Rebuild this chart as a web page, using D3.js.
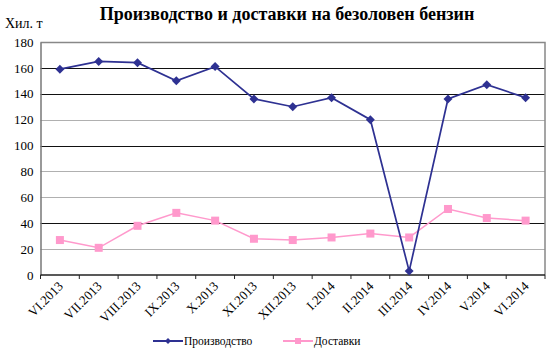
<!DOCTYPE html>
<html>
<head>
<meta charset="utf-8">
<script src="https://cdn.jsdelivr.net/npm/d3@7"></script>
<style>
  body { margin: 0; background: #fff; }
</style>
</head>
<body>
<div id="chart"></div>
<script>
'use strict';

const CATEGORIES = ['VI.2013', 'VII.2013', 'VIII.2013', 'IX.2013', 'X.2013', 'XI.2013', 'XII.2013',
  'I.2014', 'II.2014', 'III.2014', 'IV.2014', 'V.2014', 'VI.2014'];
const PRODUCTION = [159, 165, 164, 150, 161, 136, 130, 137, 120, 3, 136, 147, 137];
const DELIVERIES = [27, 21, 38, 48, 42, 28, 27, 29, 32, 29, 51, 44, 42];
const Y_TICKS = [0, 20, 40, 60, 80, 100, 120, 140, 160, 180];
const DARK_GRID = [40, 100, 140, 160];

const FONT = 'Liberation Serif';
const MARGIN = { top: 42, right: 10, bottom: 78, left: 40.5 };
const W = 555, H = 353;
const w = W - MARGIN.left - MARGIN.right;
const h = H - MARGIN.top - MARGIN.bottom;

const svg = d3.select('#chart').append('svg')
  .attr('width', W).attr('height', H)
  .attr('font-family', FONT);

svg.append('text')
  .attr('x', 287).attr('y', 20)
  .attr('text-anchor', 'middle')
  .attr('font-family', FONT)
  .attr('font-size', 18).attr('font-weight', 'bold')
  .text('Производство и доставки на безоловен бензин');

svg.append('text')
  .attr('x', 5).attr('y', 28)
  .attr('font-family', FONT)
  .attr('font-size', 14)
  .text('Хил. т');

const g = svg.append('g').attr('transform', `translate(${MARGIN.left},${MARGIN.top})`);

const x = d3.scaleBand().domain(CATEGORIES).range([0, w]);
const y = d3.scaleLinear().domain([0, 180]).range([h, 0]);
const cx = i => x(CATEGORIES[i]) + x.bandwidth() / 2;

// grid
g.append('g')
  .selectAll('line')
  .data(Y_TICKS.filter(t => t > 0 && t < 180))
  .join('line')
  .attr('x1', 0).attr('x2', w)
  .attr('y1', d => Math.round(y(d)) + 0.5).attr('y2', d => Math.round(y(d)) + 0.5)
  .attr('stroke', d => DARK_GRID.includes(d) ? '#111' : '#b0b0b0')
  .attr('stroke-width', 1.2);

// frame top / right
g.append('path')
  .attr('d', `M0,${Math.round(y(180)) + 0.5}H${w}V${h}`)
  .attr('fill', 'none').attr('stroke', '#888').attr('stroke-width', 1.5);

// y axis
g.append('g')
  .call(d3.axisLeft(y).tickValues(Y_TICKS).tickSize(0).tickPadding(7))
  .attr('font-family', FONT).attr('font-size', 13)
  .call(a => a.select('.domain').attr('stroke', '#777').attr('stroke-width', 1.5))
  .call(a => a.selectAll('text').attr('fill', '#000'));

// x axis, ticks at category boundaries
const xAxis = g.append('g').attr('transform', `translate(0,${h})`);
xAxis.append('line')
  .attr('x1', 0).attr('x2', w).attr('y1', 0).attr('y2', 0)
  .attr('stroke', '#222').attr('stroke-width', 1.3);
xAxis.selectAll('line.tick')
  .data(d3.range(CATEGORIES.length + 1))
  .join('line')
  .attr('class', 'tick')
  .attr('x1', i => i * x.bandwidth()).attr('x2', i => i * x.bandwidth())
  .attr('y1', 0).attr('y2', 4)
  .attr('stroke', '#222');
xAxis.selectAll('text.lbl')
  .data(CATEGORIES)
  .join('text')
  .attr('class', 'lbl')
  .attr('transform', (d, i) => `translate(${cx(i) + 4},${12}) rotate(-45)`)
  .attr('text-anchor', 'end')
  .attr('font-family', FONT)
  .attr('font-size', 13)
  .text(d => d);

const line = d3.line()
  .x((d, i) => cx(i))
  .y(d => y(d));

const BLUE = '#2e3192';
const PINK = '#ff99cc';

g.append('path').datum(DELIVERIES)
  .attr('d', line).attr('fill', 'none').attr('stroke', PINK).attr('stroke-width', 1.5);
g.selectAll('rect.sq').data(DELIVERIES).join('rect')
  .attr('class', 'sq')
  .attr('x', (d, i) => cx(i) - 4)
  .attr('y', d => y(d) - 4)
  .attr('width', 8).attr('height', 8)
  .attr('fill', PINK);

g.append('path').datum(PRODUCTION)
  .attr('d', line).attr('fill', 'none').attr('stroke', BLUE).attr('stroke-width', 1.7);
g.selectAll('path.dm').data(PRODUCTION).join('path')
  .attr('class', 'dm')
  .attr('transform', (d, i) => `translate(${cx(i)},${y(d)}) rotate(45)`)
  .attr('d', d3.symbol().type(d3.symbolSquare).size(40))
  .attr('fill', BLUE);

// legend
const legend = svg.append('g').attr('transform', 'translate(153,341)');
const items = [
  { name: 'Производство', color: BLUE, type: 'diamond', dx: 0 },
  { name: 'Доставки', color: PINK, type: 'square', dx: 130 },
];
items.forEach(it => {
  const row = legend.append('g').attr('transform', `translate(${it.dx},0)`);
  row.append('line').attr('x1', 0).attr('x2', 30).attr('y1', 0).attr('y2', 0)
    .attr('stroke', it.color).attr('stroke-width', 2);
  if (it.type === 'diamond') {
    row.append('path').attr('transform', 'translate(15,0) rotate(45)')
      .attr('d', d3.symbol().type(d3.symbolSquare).size(18)).attr('fill', it.color);
  } else {
    row.append('rect').attr('x', 12).attr('y', -3).attr('width', 6).attr('height', 6).attr('fill', it.color);
  }
  row.append('text').attr('x', 31).attr('y', 4)
    .attr('font-family', FONT).attr('font-size', 11.5)
    .text(it.name);
});
</script>
</body>
</html>
